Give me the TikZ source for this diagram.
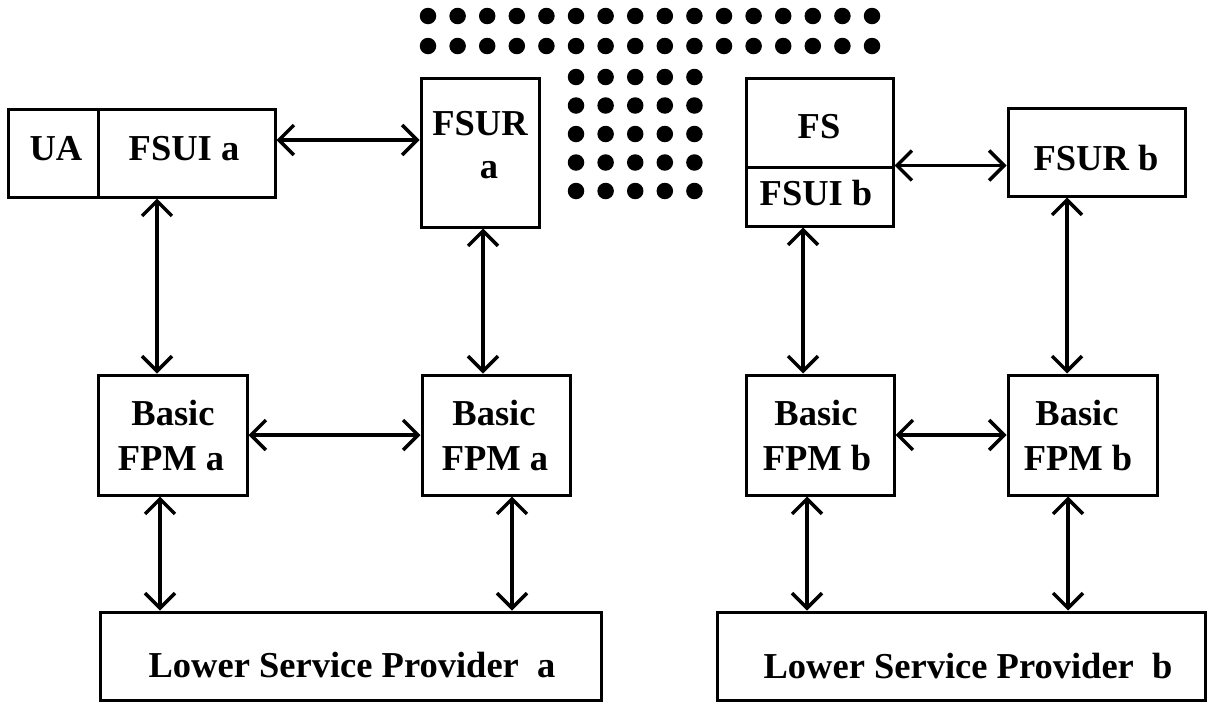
\documentclass[tikz,border=0pt]{standalone}
\usepackage{fontspec}
\setmainfont{Liberation Serif}
\usetikzlibrary{arrows.meta}
\begin{document}
\begin{tikzpicture}[x=1pt,y=-1pt,
  box/.style={draw, line width=3pt, inner sep=0pt, minimum width=#1},
  lbl/.style={anchor=base, inner sep=0pt, font=\bfseries\fontsize{36.5}{44}\selectfont},
  link/.style={line width=3.2pt, {Straight Barb[length=15pt,width=30pt,line width=3.5pt]}-{Straight Barb[length=15pt,width=30pt,line width=3.5pt]}},
  thick link/.style={link, line width=4.2pt},
  dot/.style={circle, fill=black, inner sep=0pt, minimum size=16.5pt}
]
\useasboundingbox (0,0) rectangle (1210,702);
% boxes
\node[box=90, minimum height=88] (UA) at (53,153) {};
\node[box=177, minimum height=88] (FSUIa) at (186.5,153) {};
\node[box=118, minimum height=149] (FSURa) at (480,152.5) {};
\node[box=147, minimum height=89] (FS) at (819.5,122.5) {};
\node[box=147, minimum height=59] (FSUIb) at (819.5,196.5) {};
\node[box=177, minimum height=88] (FSURb) at (1096.5,152) {};
\node[box=149, minimum height=120] (BFa1) at (172.5,435) {};
\node[box=148, minimum height=120] (BFa2) at (496,435) {};
\node[box=148, minimum height=120] (BFb1) at (820,435) {};
\node[box=149, minimum height=120] (BFb2) at (1082.5,435) {};
\node[box=501, minimum height=88] (LSPa) at (350.5,656) {};
\node[box=488, minimum height=88] (LSPb) at (961,656) {};
% labels
\node[lbl] (tUA) at (56,160) {UA};
\node[lbl] (tFSUIa) at (184,160) {FSUI a};
\node[lbl] (tFSURa1) at (480,135) {FSUR};
\node[lbl] (tFSURa2) at (489,178) {a};
\node[lbl] (tFS) at (819,138) {FS};
\node[lbl] (tFSUIb) at (816,205) {FSUI b};
\node[lbl] (tFSURb) at (1096,170) {FSUR b};
\node[lbl] (tBFa1a) at (173,425) {Basic};
\node[lbl] (tBFa1b) at (171,470) {FPM a};
\node[lbl] (tBFa2a) at (494,425) {Basic};
\node[lbl] (tBFa2b) at (495,470) {FPM a};
\node[lbl] (tBFb1a) at (816,425) {Basic};
\node[lbl] (tBFb1b) at (817,470) {FPM b};
\node[lbl] (tBFb2a) at (1077,425) {Basic};
\node[lbl] (tBFb2b) at (1078,470) {FPM b};
\node[lbl] (tLSPa) at (352,677) {Lower Service Provider\ \ a};
\node[lbl] (tLSPb) at (968,678) {Lower Service Provider\ \ b};
% horizontal connectors
\draw[link] ([yshift=13pt]FSUIa.east) -- ([yshift=13pt]FSUIa.east -| FSURa.west);
\draw[link] (FSUIb.north east) -- (FSUIb.north east -| FSURb.west);
\draw[link] (BFa1.east) -- (BFa2.west);
\draw[link] (BFb1.east) -- (BFb2.west);
% vertical connectors
\draw[thick link] ([xshift=-29.5pt]FSUIa.south) -- ([xshift=-29.5pt]FSUIa.south |- BFa1.north);
\draw[link] ([xshift=3pt]FSURa.south) -- ([xshift=3pt]FSURa.south |- BFa2.north);
\draw[link] ([xshift=-12.5pt]BFa1.south) -- ([xshift=-12.5pt]BFa1.south |- LSPa.north);
\draw[link] ([xshift=16pt]BFa2.south) -- ([xshift=16pt]BFa2.south |- LSPa.north);
\draw[link] ([xshift=-16.5pt]FSUIb.south) -- ([xshift=-16.5pt]FSUIb.south |- BFb1.north);
\draw[thick link] ([xshift=-29.5pt]FSURb.south) -- ([xshift=-29.5pt]FSURb.south |- BFb2.north);
\draw[link] ([xshift=-13pt]BFb1.south) -- ([xshift=-13pt]BFb1.south |- LSPb.north);
\draw[link] ([xshift=-14.5pt]BFb2.south) -- ([xshift=-14.5pt]BFb2.south |- LSPb.north);
% dots
\foreach \k in {0,...,15} {
  \node[dot] (r1d\k) at (428+29.6*\k,16) {};
  \node[dot] (r2d\k) at (428+29.6*\k,46) {};
}
\foreach \k in {5,...,9} {
  \foreach \j in {0,...,4} {
    \node[dot] (bd\k\j) at (428+29.6*\k,77+28.5*\j) {};
  }
}
\end{tikzpicture}
\end{document}
